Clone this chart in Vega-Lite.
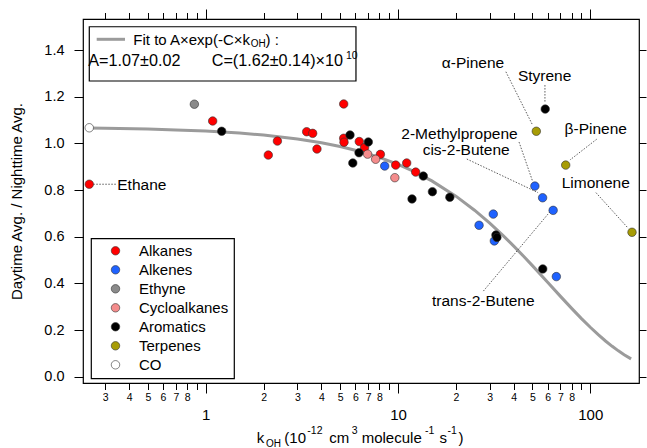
{
  "$schema": "https://vega.github.io/schema/vega-lite/v6.json",
  "width": 556,
  "height": 364,
  "autosize": {"type": "none"},
  "padding": {"left": 83, "top": 19, "right": 8, "bottom": 65},
  "background": "white",
  "datasets": {
    "fit": [
      {"k": 0.248, "ratio": 1.0657}, {"k": 0.3, "ratio": 1.0648}, {"k": 0.5, "ratio": 1.0613},
      {"k": 0.7, "ratio": 1.0579}, {"k": 1, "ratio": 1.0528}, {"k": 1.5, "ratio": 1.0443},
      {"k": 2, "ratio": 1.0359}, {"k": 3, "ratio": 1.0192}, {"k": 4, "ratio": 1.0029},
      {"k": 5, "ratio": 0.9867}, {"k": 6, "ratio": 0.9709}, {"k": 7, "ratio": 0.9553},
      {"k": 8, "ratio": 0.9399}, {"k": 10, "ratio": 0.91}, {"k": 12, "ratio": 0.881},
      {"k": 15, "ratio": 0.8392}, {"k": 20, "ratio": 0.7739}, {"k": 25, "ratio": 0.7137},
      {"k": 30, "ratio": 0.6581}, {"k": 35, "ratio": 0.6069}, {"k": 40, "ratio": 0.5597},
      {"k": 45, "ratio": 0.5162}, {"k": 50, "ratio": 0.476}, {"k": 60, "ratio": 0.4048},
      {"k": 70, "ratio": 0.3443}, {"k": 80, "ratio": 0.2928}, {"k": 90, "ratio": 0.249},
      {"k": 100, "ratio": 0.2118}, {"k": 110, "ratio": 0.1801}, {"k": 120, "ratio": 0.1531},
      {"k": 130, "ratio": 0.1302}, {"k": 140, "ratio": 0.1108}, {"k": 150, "ratio": 0.0942},
      {"k": 163, "ratio": 0.0763}
    ],
    "points": [
      {"group": "Alkenes", "k": 8.53, "ratio": 0.903},
      {"group": "Alkenes", "k": 26.4, "ratio": 0.649},
      {"group": "Alkenes", "k": 31.3, "ratio": 0.697},
      {"group": "Alkenes", "k": 31.7, "ratio": 0.582},
      {"group": "Alkenes", "k": 51.5, "ratio": 0.817},
      {"group": "Alkenes", "k": 56.5, "ratio": 0.767},
      {"group": "Alkenes", "k": 64.1, "ratio": 0.713},
      {"group": "Alkenes", "k": 66.6, "ratio": 0.429},
      {"group": "Alkanes", "k": 0.248, "ratio": 0.825},
      {"group": "Alkanes", "k": 1.087, "ratio": 1.096},
      {"group": "Alkanes", "k": 2.116, "ratio": 0.95},
      {"group": "Alkanes", "k": 2.36, "ratio": 1.01},
      {"group": "Alkanes", "k": 3.35, "ratio": 1.05},
      {"group": "Alkanes", "k": 3.6, "ratio": 1.043},
      {"group": "Alkanes", "k": 3.79, "ratio": 0.976},
      {"group": "Alkanes", "k": 5.22, "ratio": 1.169},
      {"group": "Alkanes", "k": 5.22, "ratio": 1.022},
      {"group": "Alkanes", "k": 5.24, "ratio": 1.005},
      {"group": "Alkanes", "k": 6.29, "ratio": 1.008},
      {"group": "Alkanes", "k": 6.7, "ratio": 0.982},
      {"group": "Alkanes", "k": 8.1, "ratio": 0.953},
      {"group": "Alkanes", "k": 9.73, "ratio": 0.907},
      {"group": "Alkanes", "k": 11.1, "ratio": 0.916},
      {"group": "Alkanes", "k": 12.36, "ratio": 0.877},
      {"group": "Cycloalkanes", "k": 6.95, "ratio": 0.954},
      {"group": "Cycloalkanes", "k": 7.65, "ratio": 0.932},
      {"group": "Cycloalkanes", "k": 9.63, "ratio": 0.853},
      {"group": "Aromatics", "k": 1.211, "ratio": 1.052},
      {"group": "Aromatics", "k": 5.63, "ratio": 1.036},
      {"group": "Aromatics", "k": 5.82, "ratio": 0.916},
      {"group": "Aromatics", "k": 6.27, "ratio": 0.96},
      {"group": "Aromatics", "k": 7.01, "ratio": 1.006},
      {"group": "Aromatics", "k": 11.83, "ratio": 0.762},
      {"group": "Aromatics", "k": 13.54, "ratio": 0.86},
      {"group": "Aromatics", "k": 15.1, "ratio": 0.793},
      {"group": "Aromatics", "k": 18.6, "ratio": 0.769},
      {"group": "Aromatics", "k": 32.3, "ratio": 0.607},
      {"group": "Aromatics", "k": 32.7, "ratio": 0.597},
      {"group": "Aromatics", "k": 56.6, "ratio": 0.462},
      {"group": "Aromatics", "k": 58.3, "ratio": 1.147},
      {"group": "Ethyne", "k": 0.873, "ratio": 1.168},
      {"group": "Terpenes", "k": 52.4, "ratio": 1.052},
      {"group": "Terpenes", "k": 74.5, "ratio": 0.907},
      {"group": "Terpenes", "k": 164.8, "ratio": 0.619},
      {"group": "CO", "k": 0.248, "ratio": 1.067}
    ],
    "leaders": [
      {"name": "Ethane", "k1": 0.2603, "r1": 0.825, "k2": 0.3445, "r2": 0.825},
      {"name": "α-Pinene", "k1": 36.4, "r1": 1.307, "k2": 49.8, "r2": 1.083},
      {"name": "Styrene", "k1": 58.1, "r1": 1.25, "k2": 58.1, "r2": 1.179},
      {"name": "β-Pinene", "k1": 108, "r1": 1.018, "k2": 78.4, "r2": 0.929},
      {"name": "2-Methylpropene", "k1": 42.6, "r1": 1.006, "k2": 50.2, "r2": 0.836},
      {"name": "cis-2-Butene", "k1": 22.8, "r1": 0.933, "k2": 53.5, "r2": 0.789},
      {"name": "Limonene", "k1": 107, "r1": 0.789, "k2": 157.6, "r2": 0.636},
      {"name": "trans-2-Butene", "k1": 27.8, "r1": 0.367, "k2": 61.7, "r2": 0.707}
    ],
    "labels": [
      {"name": "Ethane", "k": 0.4653, "ratio": 0.8003},
      {"name": "α-Pinene", "k": 24.55, "ratio": 1.3245},
      {"name": "Styrene", "k": 57.9, "ratio": 1.2675},
      {"name": "β-Pinene", "k": 106.8, "ratio": 1.039},
      {"name": "2-Methylpropene", "k": 20.88, "ratio": 1.0189},
      {"name": "cis-2-Butene", "k": 22.62, "ratio": 0.95},
      {"name": "Limonene", "k": 106.8, "ratio": 0.8075},
      {"name": "trans-2-Butene", "k": 27.77, "ratio": 0.303}
    ],
    "box": [{"k1": 0.2481, "k2": 6.046, "r1": 1.5, "r2": 1.2675}],
    "sample": [{"k1": 0.2711, "k2": 0.3804, "r": 1.4462}],
    "notes": [
      {"kind": "main", "text": "Fit to A×exp(-C×k", "k": 0.4203, "ratio": 1.4231},
      {"kind": "sub", "text": "OH", "k": 1.714, "ratio": 1.4119},
      {"kind": "main", "text": ") :", "k": 2.046, "ratio": 1.4231},
      {"kind": "big", "text": "A=1.07±0.02", "k": 0.2452, "ratio": 1.3317},
      {"kind": "big", "text": "C=(1.62±0.14)×10", "k": 1.0745, "ratio": 1.3317},
      {"kind": "sup", "text": "10", "k": 5.365, "ratio": 1.363},
      {"kind": "main", "text": "k", "k": 1.842, "ratio": -0.2842},
      {"kind": "sub", "text": "OH", "k": 2.059, "ratio": -0.3014},
      {"kind": "main", "text": "(10", "k": 2.563, "ratio": -0.2842},
      {"kind": "sup", "text": "-12", "k": 3.376, "ratio": -0.2448},
      {"kind": "main", "text": "cm", "k": 4.392, "ratio": -0.2842},
      {"kind": "sup", "text": "3", "k": 5.743, "ratio": -0.2448},
      {"kind": "main", "text": "molecule", "k": 6.475, "ratio": -0.2842},
      {"kind": "sup", "text": "-1", "k": 13.82, "ratio": -0.2448},
      {"kind": "main", "text": "s", "k": 16.44, "ratio": -0.2842},
      {"kind": "sup", "text": "-1", "k": 18.09, "ratio": -0.2448},
      {"kind": "main", "text": ")", "k": 20.63, "ratio": -0.2842}
    ]
  },
  "layer": [
    {
      "data": {"name": "fit"},
      "mark": {"type": "line", "color": "#9b9b9b", "strokeWidth": 3, "clip": true},
      "encoding": {
        "x": {
          "field": "k", "type": "quantitative",
          "scale": {"type": "log", "domain": [0.2301, 179.2], "nice": false},
          "axis": {
            "orient": "bottom", "title": null,
            "values": [0.3, 0.4, 0.5, 0.6, 0.7, 0.8, 0.9, 1, 2, 3, 4, 5, 6, 7, 8, 9, 10, 20, 30, 40, 50, 60, 70, 80, 90, 100],
            "tickSize": {"condition": {"test": "datum.value == 1 || datum.value == 10 || datum.value == 100", "value": 10}, "value": 6.5},
            "labelFontSize": {"condition": {"test": "datum.value == 1 || datum.value == 10 || datum.value == 100", "value": 15}, "value": 10.5},
            "labelPadding": {"condition": {"test": "datum.value == 1 || datum.value == 10 || datum.value == 100", "value": 14}, "value": 2.5},
            "labelExpr": "(datum.value == 1 || datum.value == 10 || datum.value == 100) ? format(datum.value, 'd') : (substring(format(datum.value, '.0e'), 0, 1) == '9' ? '' : substring(format(datum.value, '.0e'), 0, 1))",
            "labelOverlap": false, "labelFlush": false, "labelBound": false
          }
        },
        "y": {
          "field": "ratio", "type": "quantitative",
          "scale": {"domain": [-0.027, 1.5332], "nice": false, "zero": false},
          "axis": {
            "orient": "left", "title": "Daytime Avg. / Nighttime Avg.",
            "values": [0, 0.2, 0.4, 0.6, 0.8, 1.0, 1.2, 1.4], "format": ".1f",
            "tickSize": 9, "labelPadding": 10, "labelFontSize": 14.5,
            "titleFontSize": 15, "titlePadding": 19
          }
        }
      }
    },
    {
      "data": {"name": "leaders"},
      "mark": {"type": "rule", "color": "#333333", "strokeWidth": 0.8, "strokeDash": [1.5, 1.5]},
      "encoding": {
        "x": {
          "field": "k1", "type": "quantitative",
          "scale": {"type": "log", "domain": [0.2301, 179.2], "nice": false},
          "axis": {
            "orient": "top", "title": null, "labels": false,
            "values": [0.3, 0.4, 0.5, 0.6, 0.7, 0.8, 0.9, 1, 2, 3, 4, 5, 6, 7, 8, 9, 10, 20, 30, 40, 50, 60, 70, 80, 90, 100],
            "tickSize": {"condition": {"test": "datum.value == 1 || datum.value == 10 || datum.value == 100", "value": 10}, "value": 6.5}
          }
        },
        "x2": {"field": "k2"},
        "y": {
          "field": "r1", "type": "quantitative",
          "scale": {"domain": [-0.027, 1.5332], "nice": false, "zero": false},
          "axis": {
            "orient": "right", "title": null, "labels": false,
            "values": [0, 0.2, 0.4, 0.6, 0.8, 1.0, 1.2, 1.4], "tickSize": 7
          }
        },
        "y2": {"field": "r2"}
      }
    },
    {
      "data": {"name": "points"},
      "mark": {"type": "point", "shape": "circle", "filled": true, "size": 72, "stroke": "#333333", "strokeWidth": 0.6, "opacity": 1},
      "encoding": {
        "x": {"field": "k", "type": "quantitative", "scale": {"type": "log", "domain": [0.2301, 179.2], "nice": false}, "axis": null},
        "y": {"field": "ratio", "type": "quantitative", "scale": {"domain": [-0.027, 1.5332], "nice": false, "zero": false}, "axis": null},
        "fill": {
          "field": "group", "type": "nominal",
          "scale": {
            "domain": ["Alkanes", "Alkenes", "Ethyne", "Cycloalkanes", "Aromatics", "Terpenes", "CO"],
            "range": ["#ff0000", "#1f62ff", "#8a8a8a", "#f48c8c", "#000000", "#a79c05", "#ffffff"]
          },
          "legend": {
            "orient": "none", "legendX": 8, "legendY": 219.3, "title": null,
            "fillColor": "white", "strokeColor": "black",
            "padding": 5, "symbolOffset": 12, "labelOffset": 16,
            "labelFontSize": 15, "rowPadding": 3, "symbolSize": 72,
            "symbolType": "circle", "symbolStrokeColor": "#333333", "symbolStrokeWidth": 0.6,
            "labelColor": "#000000"
          }
        }
      }
    },
    {
      "data": {"name": "labels"},
      "mark": {"type": "text", "fontSize": 15.5, "align": "center", "baseline": "alphabetic", "color": "#000000"},
      "encoding": {
        "x": {"field": "k", "type": "quantitative", "scale": {"type": "log", "domain": [0.2301, 179.2], "nice": false}, "axis": null},
        "y": {"field": "ratio", "type": "quantitative", "scale": {"domain": [-0.027, 1.5332], "nice": false, "zero": false}, "axis": null},
        "text": {"field": "name"}
      }
    },
    {
      "data": {"name": "box"},
      "mark": {"type": "rect", "fill": "white", "stroke": "black", "strokeWidth": 1.2},
      "encoding": {
        "x": {"field": "k1", "type": "quantitative", "scale": {"type": "log", "domain": [0.2301, 179.2], "nice": false}, "axis": null},
        "x2": {"field": "k2"},
        "y": {"field": "r1", "type": "quantitative", "scale": {"domain": [-0.027, 1.5332], "nice": false, "zero": false}, "axis": null},
        "y2": {"field": "r2"}
      }
    },
    {
      "data": {"name": "sample"},
      "mark": {"type": "rule", "color": "#9b9b9b", "strokeWidth": 3},
      "encoding": {
        "x": {"field": "k1", "type": "quantitative", "scale": {"type": "log", "domain": [0.2301, 179.2], "nice": false}, "axis": null},
        "x2": {"field": "k2"},
        "y": {"field": "r", "type": "quantitative", "scale": {"domain": [-0.027, 1.5332], "nice": false, "zero": false}, "axis": null}
      }
    },
    {
      "data": {"name": "notes"},
      "transform": [{"filter": "datum.kind == 'main'"}],
      "mark": {"type": "text", "align": "left", "baseline": "alphabetic", "color": "#000000", "fontSize": 15},
      "encoding": {
        "x": {"field": "k", "type": "quantitative", "scale": {"type": "log", "domain": [0.2301, 179.2], "nice": false}, "axis": null},
        "y": {"field": "ratio", "type": "quantitative", "scale": {"domain": [-0.027, 1.5332], "nice": false, "zero": false}, "axis": null},
        "text": {"field": "text"}
      }
    },
    {
      "data": {"name": "notes"},
      "transform": [{"filter": "datum.kind == 'big'"}],
      "mark": {"type": "text", "align": "left", "baseline": "alphabetic", "color": "#000000", "fontSize": 16.2},
      "encoding": {
        "x": {"field": "k", "type": "quantitative", "scale": {"type": "log", "domain": [0.2301, 179.2], "nice": false}, "axis": null},
        "y": {"field": "ratio", "type": "quantitative", "scale": {"domain": [-0.027, 1.5332], "nice": false, "zero": false}, "axis": null},
        "text": {"field": "text"}
      }
    },
    {
      "data": {"name": "notes"},
      "transform": [{"filter": "datum.kind == 'sup'"}],
      "mark": {"type": "text", "align": "left", "baseline": "alphabetic", "color": "#000000", "fontSize": 10.5},
      "encoding": {
        "x": {"field": "k", "type": "quantitative", "scale": {"type": "log", "domain": [0.2301, 179.2], "nice": false}, "axis": null},
        "y": {"field": "ratio", "type": "quantitative", "scale": {"domain": [-0.027, 1.5332], "nice": false, "zero": false}, "axis": null},
        "text": {"field": "text"}
      }
    },
    {
      "data": {"name": "notes"},
      "transform": [{"filter": "datum.kind == 'sub'"}],
      "mark": {"type": "text", "align": "left", "baseline": "alphabetic", "color": "#000000", "fontSize": 10},
      "encoding": {
        "x": {"field": "k", "type": "quantitative", "scale": {"type": "log", "domain": [0.2301, 179.2], "nice": false}, "axis": null},
        "y": {"field": "ratio", "type": "quantitative", "scale": {"domain": [-0.027, 1.5332], "nice": false, "zero": false}, "axis": null},
        "text": {"field": "text"}
      }
    }
  ],
  "resolve": {"axis": {"x": "independent", "y": "independent"}},
  "config": {
    "font": "Liberation Sans",
    "view": {"stroke": "#000000", "strokeWidth": 1.2},
    "axis": {
      "domain": false, "grid": false, "tickColor": "#000000", "tickWidth": 1,
      "labelColor": "#000000", "titleColor": "#000000", "titleFontWeight": "normal",
      "labelFont": "Liberation Sans", "titleFont": "Liberation Sans"
    },
    "legend": {"strokeWidth": 1.2},
    "text": {"font": "Liberation Sans"}
  }
}
